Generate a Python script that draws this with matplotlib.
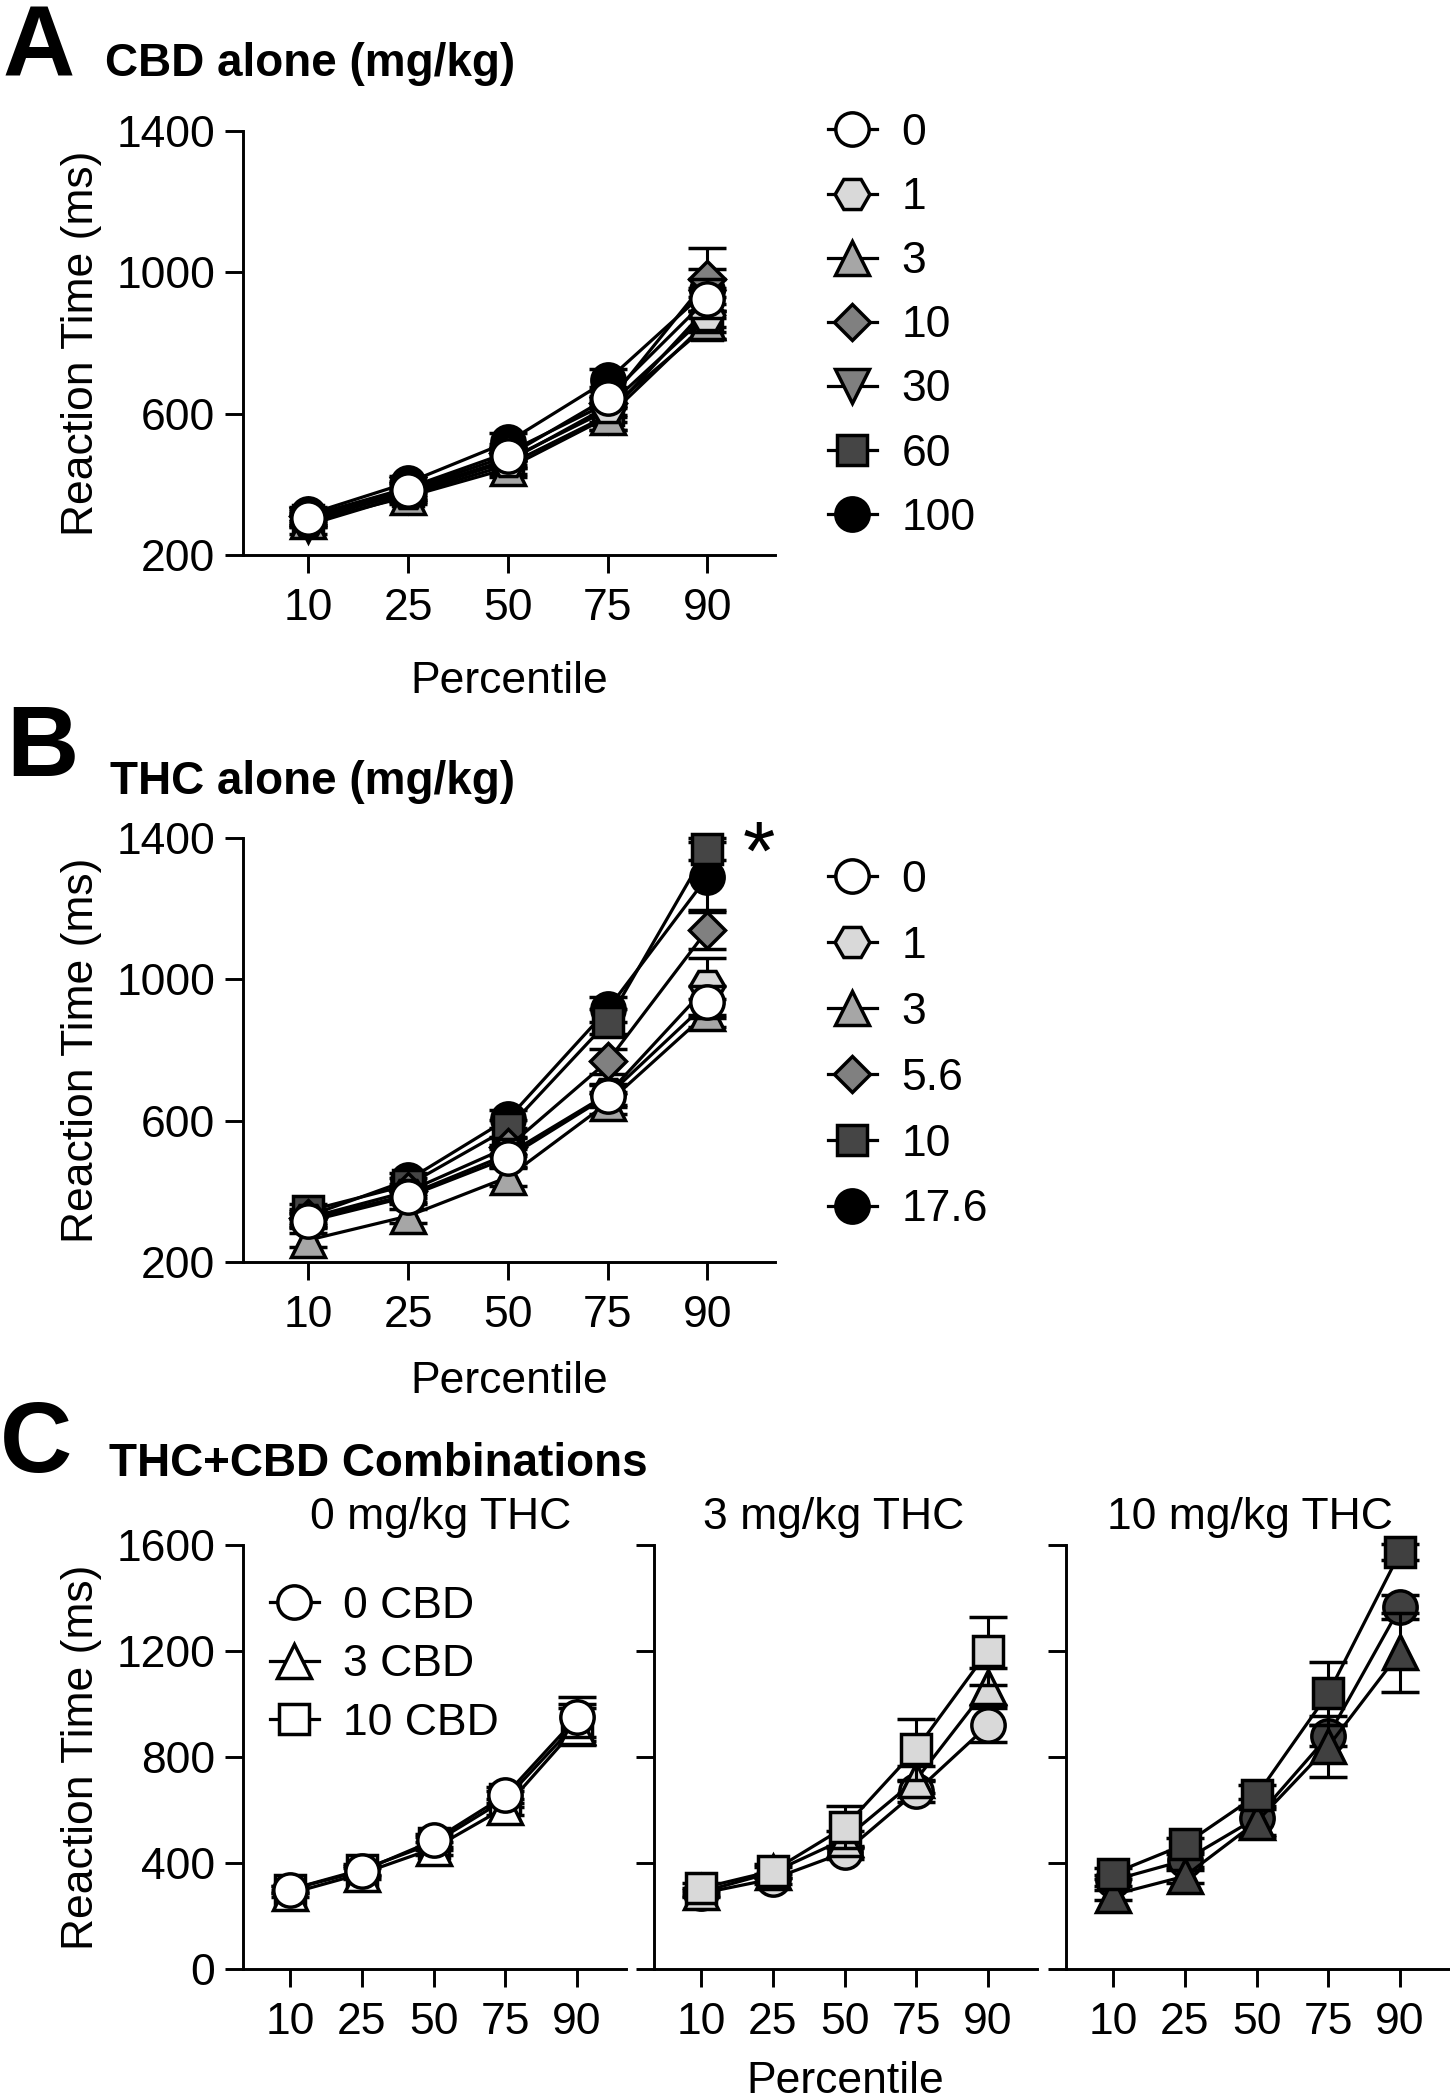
import numpy as np
import matplotlib.pyplot as plt

plt.rcParams['font.family'] = ['Liberation Sans', 'DejaVu Sans']

W, H = 1450, 2100

percentiles = ['10', '25', '50', '75', '90']

# A: CBD alone (mg/kg) - mean reaction time (ms) and SEM
cbd_doses = ['0', '1', '3', '10', '30', '60', '100']
cbd_0 = [305, 385, 480, 645, 925]
cbd_1 = [300, 375, 465, 620, 880]
cbd_3 = [295, 365, 445, 590, 860]
cbd_10 = [310, 390, 490, 630, 980]
cbd_30 = [285, 370, 455, 595, 900]
cbd_60 = [300, 380, 470, 610, 850]
cbd_100 = [315, 405, 520, 695, 950]
cbd_0_sem = [20, 20, 25, 30, 55]
cbd_1_sem = [15, 20, 20, 30, 50]
cbd_3_sem = [15, 20, 25, 35, 50]
cbd_10_sem = [20, 20, 25, 35, 90]
cbd_30_sem = [25, 20, 25, 40, 55]
cbd_60_sem = [20, 25, 25, 35, 40]
cbd_100_sem = [20, 20, 25, 30, 60]

# B: THC alone (mg/kg)
thc_doses = ['0', '1', '3', '5.6', '10', '17.6']
thc_0 = [315, 385, 495, 670, 935]
thc_1 = [320, 390, 505, 675, 980]
thc_3 = [262, 330, 440, 650, 905]
thc_5_6 = [325, 400, 525, 768, 1140]
thc_10 = [345, 418, 578, 880, 1369]
thc_17_6 = [330, 432, 605, 915, 1290]
thc_0_sem = [20, 20, 25, 30, 45]
thc_1_sem = [20, 20, 25, 30, 80]
thc_3_sem = [20, 20, 25, 30, 40]
thc_5_6_sem = [20, 20, 25, 35, 55]
thc_10_sem = [20, 20, 25, 35, 30]
thc_17_6_sem = [20, 20, 25, 35, 100]

# C: THC+CBD combinations
combo_labels = ['0 CBD', '3 CBD', '10 CBD']
combo_titles = ['0 mg/kg THC', '3 mg/kg THC', '10 mg/kg THC']
thc0_cbd0 = [300, 370, 485, 655, 950]
thc0_cbd3 = [285, 360, 455, 610, 915]
thc0_cbd10 = [300, 375, 475, 640, 930]
thc0_cbd0_sem = [15, 20, 25, 30, 75]
thc0_cbd3_sem = [15, 20, 25, 30, 70]
thc0_cbd10_sem = [15, 20, 25, 30, 70]
thc3_cbd0 = [285, 340, 440, 670, 920]
thc3_cbd3 = [290, 365, 490, 715, 1065]
thc3_cbd10 = [305, 370, 535, 830, 1200]
thc3_cbd0_sem = [15, 20, 25, 40, 65]
thc3_cbd3_sem = [15, 20, 30, 50, 70]
thc3_cbd10_sem = [20, 25, 80, 115, 130]
thc10_cbd0 = [335, 410, 570, 880, 1365]
thc10_cbd3 = [280, 350, 555, 840, 1195]
thc10_cbd10 = [360, 470, 655, 1040, 1572]
thc10_cbd0_sem = [20, 25, 70, 40, 45]
thc10_cbd3_sem = [20, 25, 50, 115, 150]
thc10_cbd10_sem = [20, 25, 40, 120, 30]

# styles
msize = {'o': 24, 'H': 25, '^': 24, 'v': 24, 'D': 18, 's': 21}
FS = 32
x = np.arange(len(percentiles))


def rect(left, top, right, bottom):
    return [left / W, 1 - bottom / H, (right - left) / W, (bottom - top) / H]


def series(ax, y, err, marker, face, label, z):
    c = ax.errorbar(x, y, yerr=err, color='black', lw=2.3, marker=marker,
                    ms=msize[marker], mfc=face, mec='black', mew=2.5,
                    elinewidth=2.2, capsize=14, capthick=2.2, label=label, zorder=z)
    for art in c.get_children():
        art.set_clip_on(False)
    return c[0]


def style(ax, ylim, yticks, ylabels=True):
    ax.set_xlim(-0.655, 4.678)
    ax.set_ylim(*ylim)
    ax.set_xticks(x, percentiles)
    ax.set_yticks(yticks)
    if not ylabels:
        ax.set_yticklabels([])
    ax.spines['top'].set_visible(False)
    ax.spines['right'].set_visible(False)
    for s in ('left', 'bottom'):
        ax.spines[s].set_linewidth(2.1)
    ax.tick_params(axis='both', width=2.1, length=13, labelsize=FS)
    ax.tick_params(axis='x', pad=11)
    ax.tick_params(axis='y', pad=7)


def legend(ax, handles, labels, left, top, spacing):
    ax.legend(handles, labels, loc='upper left',
              bbox_to_anchor=(left / W, 1 - top / H), bbox_transform=fig.transFigure,
              frameon=False, borderpad=0, borderaxespad=0, handlelength=1.1,
              handletextpad=0.55, labelspacing=spacing, fontsize=FS, numpoints=1)


fig = plt.figure(figsize=(14.5, 21), dpi=100)

# ---- A ----
axA = fig.add_axes(rect(243, 131, 775, 555))
a_data = [cbd_0, cbd_1, cbd_3, cbd_10, cbd_30, cbd_60, cbd_100]
a_sem = [cbd_0_sem, cbd_1_sem, cbd_3_sem, cbd_10_sem, cbd_30_sem, cbd_60_sem, cbd_100_sem]
a_mark = ['o', 'H', '^', 'D', 'v', 's', 'o']
a_face = ['white', '#d9d9d9', '#a6a6a6', '#808080', '#7f7f7f', '#454545', 'black']
hA = [None] * len(a_data)
for i in reversed(range(len(a_data))):
    hA[i] = series(axA, a_data[i], a_sem[i], a_mark[i], a_face[i], cbd_doses[i], 10 - i)
style(axA, (200, 1400), [200, 600, 1000, 1400])
axA.set_ylabel('Reaction Time (ms)', fontsize=FS)
axA.yaxis.set_label_coords(-0.265, 0.5)
axA.set_xlabel('Percentile', fontsize=FS)
axA.xaxis.set_label_coords(0.5, -0.25)
legend(axA, hA, cbd_doses, 828, 113, 0.52)

# ---- B ----
axB = fig.add_axes(rect(243, 838, 775, 1262))
b_data = [thc_0, thc_1, thc_3, thc_5_6, thc_10, thc_17_6]
b_sem = [thc_0_sem, thc_1_sem, thc_3_sem, thc_5_6_sem, thc_10_sem, thc_17_6_sem]
b_mark = ['o', 'H', '^', 'D', 's', 'o']
b_face = ['white', '#d9d9d9', '#a6a6a6', '#808080', '#454545', 'black']
hB = [None] * len(b_data)
for i in reversed(range(len(b_data))):
    hB[i] = series(axB, b_data[i], b_sem[i], b_mark[i], b_face[i], thc_doses[i], 10 - i)
style(axB, (200, 1400), [200, 600, 1000, 1400])
axB.set_ylabel('Reaction Time (ms)', fontsize=FS)
axB.yaxis.set_label_coords(-0.265, 0.5)
axB.set_xlabel('Percentile', fontsize=FS)
axB.xaxis.set_label_coords(0.5, -0.233)
axB.text(4.513, 1345, '*', fontsize=60, ha='center', va='center')
legend(axB, hB, thc_doses, 828, 860, 0.56)

# ---- C ----
c_data = [[thc0_cbd0, thc0_cbd3, thc0_cbd10],
          [thc3_cbd0, thc3_cbd3, thc3_cbd10],
          [thc10_cbd0, thc10_cbd3, thc10_cbd10]]
c_sem = [[thc0_cbd0_sem, thc0_cbd3_sem, thc0_cbd10_sem],
         [thc3_cbd0_sem, thc3_cbd3_sem, thc3_cbd10_sem],
         [thc10_cbd0_sem, thc10_cbd3_sem, thc10_cbd10_sem]]
c_mark = ['o', '^', 's']
c_face = ['white', '#d9d9d9', '#404040']
c_left = [243, 654, 1066]
c_title_x = [0.517, 0.470, 0.481]
for p in range(3):
    ax = fig.add_axes(rect(c_left[p], 1545, c_left[p] + 382.7, 1969))
    hs = [None] * 3
    # white circles sit on top in the vehicle panel, squares on top otherwise
    order = [2, 1, 0] if p == 0 else [0, 1, 2]
    for k, i in enumerate(order):
        hs[i] = series(ax, c_data[p][i], c_sem[p][i], c_mark[i], c_face[p],
                       combo_labels[i], 5 + k)
    style(ax, (0, 1600), [0, 400, 800, 1200, 1600], ylabels=(p == 0))
    ax.text(c_title_x[p], 1.0377, combo_titles[p], transform=ax.transAxes,
            fontsize=FS, ha='center', va='baseline')
    if p == 0:
        ax.set_ylabel('Reaction Time (ms)', fontsize=FS)
        ax.yaxis.set_label_coords(-0.368, 0.5)
        legend(ax, hs, combo_labels, 270, 1586, 0.39)
    if p == 1:
        ax.set_xlabel('Percentile', fontsize=FS)
        ax.xaxis.set_label_coords(0.5, -0.218)

# panel letters and headings
fig.text(0.002, 1 - 76 / H, 'A', fontsize=72, weight='bold', va='baseline')
fig.text(105 / W, 1 - 76 / H, 'CBD alone (mg/kg)', fontsize=33, weight='bold', va='baseline')
fig.text(0.004, 1 - 776 / H, 'B', fontsize=72, weight='bold', va='baseline')
fig.text(110 / W, 1 - 794 / H, 'THC alone (mg/kg)', fontsize=33, weight='bold', va='baseline')
fig.text(0.0, 1 - 1472 / H, 'C', fontsize=72, weight='bold', va='baseline')
fig.text(109 / W, 1 - 1476 / H, 'THC+CBD Combinations', fontsize=33, weight='bold', va='baseline')

fig.savefig('out.png', dpi=100, facecolor='white')
